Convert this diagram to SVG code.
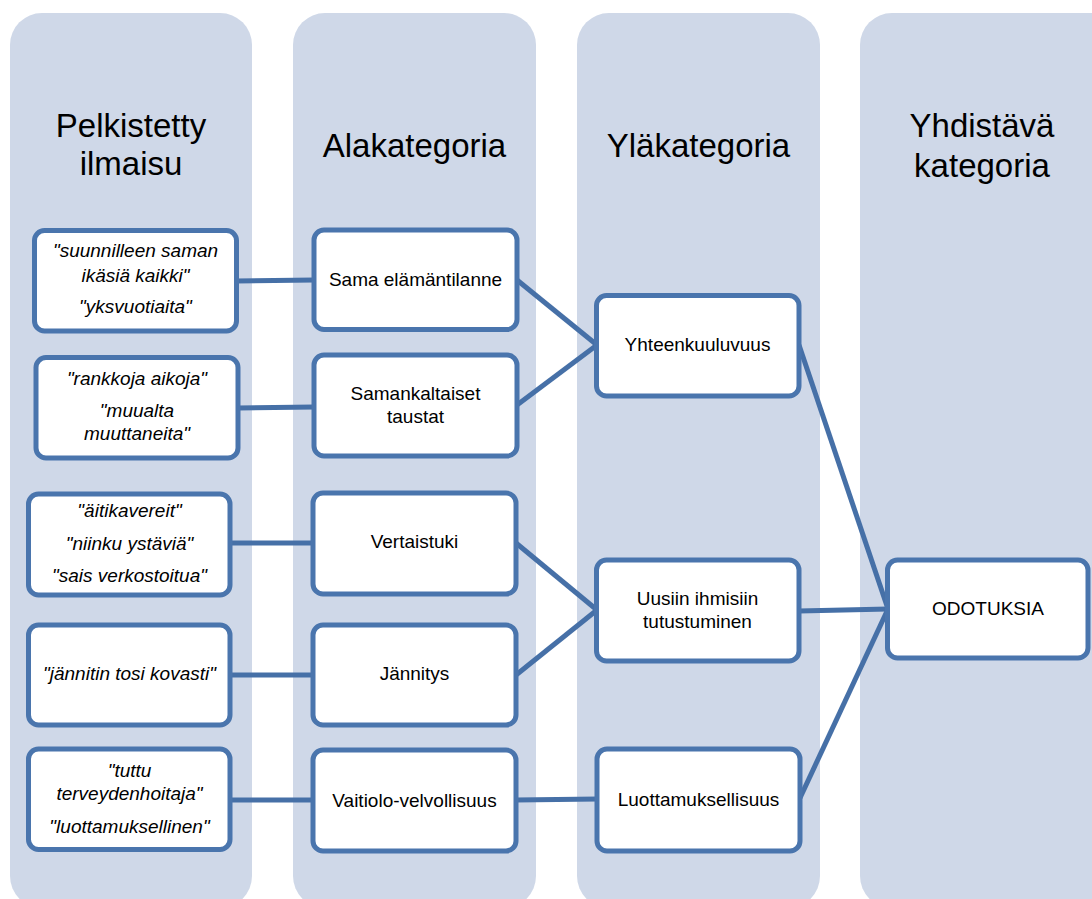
<svg xmlns="http://www.w3.org/2000/svg" width="1092" height="899" viewBox="0 0 1092 899">
<style>
.lane{fill:#cfd8e8}
.box{fill:#ffffff;stroke:#4a75ad;stroke-width:5}
.con{stroke:#4670a7;stroke-width:5;fill:none}
text{font-family:"Liberation Sans",Arial,sans-serif;fill:#000;text-anchor:middle}
.h{font-size:33px}
.q{font-size:19px;font-style:italic}
.t{font-size:19px}
</style>
<rect width="1092" height="899" fill="#ffffff"/>
<g id="lanes">
<rect class="lane" x="10" y="13" width="242" height="895" rx="32"/>
<rect class="lane" x="293" y="13" width="243" height="895" rx="32"/>
<rect class="lane" x="577" y="13" width="243" height="895" rx="32"/>
<rect class="lane" x="860" y="13" width="270" height="895" rx="32"/>
<text class="h" x="131" y="137">Pelkistetty</text>
<text class="h" x="131" y="175">ilmaisu</text>
<text class="h" x="414.5" y="157">Alakategoria</text>
<text class="h" x="698.5" y="157">Yläkategoria</text>
<text class="h" x="982" y="137">Yhdistävä</text>
<text class="h" x="982" y="177">kategoria</text>
</g>
<g id="connectors">
<line class="con" x1="236" y1="281" x2="314" y2="280"/>
<line class="con" x1="238" y1="408" x2="314" y2="407"/>
<line class="con" x1="230" y1="543" x2="313" y2="543"/>
<line class="con" x1="230" y1="675" x2="313" y2="675"/>
<line class="con" x1="230" y1="800" x2="313" y2="800"/>
<line class="con" x1="517" y1="280" x2="597" y2="345"/>
<line class="con" x1="517" y1="405" x2="597" y2="345"/>
<line class="con" x1="516" y1="543" x2="597" y2="610"/>
<line class="con" x1="516" y1="675" x2="597" y2="610"/>
<line class="con" x1="516" y1="800" x2="598" y2="799"/>
<line class="con" x1="799" y1="345" x2="888" y2="609"/>
<line class="con" x1="799" y1="611" x2="888" y2="609"/>
<line class="con" x1="800" y1="798" x2="888" y2="609"/>
</g>
<g id="n-l1"><rect class="box" x="34.5" y="230.5" width="202" height="100.5" rx="10"/>
<text class="q" x="135.5" y="257">"suunnilleen saman</text>
<text class="q" x="135.5" y="282">ikäsiä kaikki"</text>
<text class="q" x="135.5" y="313">"yksvuotiaita"</text></g>
<g id="n-l2"><rect class="box" x="36" y="357.5" width="202" height="100.5" rx="10"/>
<text class="q" x="137" y="385">"rankkoja aikoja"</text>
<text class="q" x="137" y="417">"muualta</text>
<text class="q" x="137" y="440">muuttaneita"</text></g>
<g id="n-l3"><rect class="box" x="28.5" y="494" width="201.5" height="101" rx="10"/>
<text class="q" x="129.5" y="517">"äitikavereit"</text>
<text class="q" x="129.5" y="550">"niinku ystäviä"</text>
<text class="q" x="129.5" y="582">"sais verkostoitua"</text></g>
<g id="n-l4"><rect class="box" x="28.5" y="625" width="201.5" height="100" rx="10"/>
<text class="q" x="129.5" y="680">"jännitin tosi kovasti"</text></g>
<g id="n-l5"><rect class="box" x="28.5" y="749" width="201.5" height="100.5" rx="10"/>
<text class="q" x="129.5" y="777">"tuttu</text>
<text class="q" x="129.5" y="800">terveydenhoitaja"</text>
<text class="q" x="129.5" y="833">"luottamuksellinen"</text></g>
<g id="n-m1"><rect class="box" x="314" y="230" width="203" height="99.5" rx="10"/>
<text class="t" x="415.5" y="286">Sama elämäntilanne</text></g>
<g id="n-m2"><rect class="box" x="314" y="355" width="203" height="101" rx="10"/>
<text class="t" x="415.5" y="400">Samankaltaiset</text>
<text class="t" x="415.5" y="423">taustat</text></g>
<g id="n-m3"><rect class="box" x="313" y="493" width="203" height="101" rx="10"/>
<text class="t" x="414.5" y="548">Vertaistuki</text></g>
<g id="n-m4"><rect class="box" x="313" y="625" width="203" height="100" rx="10"/>
<text class="t" x="414.5" y="680">Jännitys</text></g>
<g id="n-m5"><rect class="box" x="313" y="750" width="203" height="101" rx="10"/>
<text class="t" x="414.5" y="807">Vaitiolo-velvollisuus</text></g>
<g id="n-r1"><rect class="box" x="596.5" y="295.5" width="202.5" height="100.5" rx="10"/>
<text class="t" x="697.5" y="351">Yhteenkuuluvuus</text></g>
<g id="n-r2"><rect class="box" x="596.5" y="560" width="202.5" height="101" rx="10"/>
<text class="t" x="697.5" y="605">Uusiin ihmisiin</text>
<text class="t" x="697.5" y="628">tutustuminen</text></g>
<g id="n-r3"><rect class="box" x="597" y="749" width="203" height="102" rx="10"/>
<text class="t" x="698.5" y="806">Luottamuksellisuus</text></g>
<g id="n-final"><rect class="box" x="887.5" y="560" width="200.5" height="98" rx="10"/>
<text class="t" x="988" y="615">ODOTUKSIA</text></g>
</svg>
